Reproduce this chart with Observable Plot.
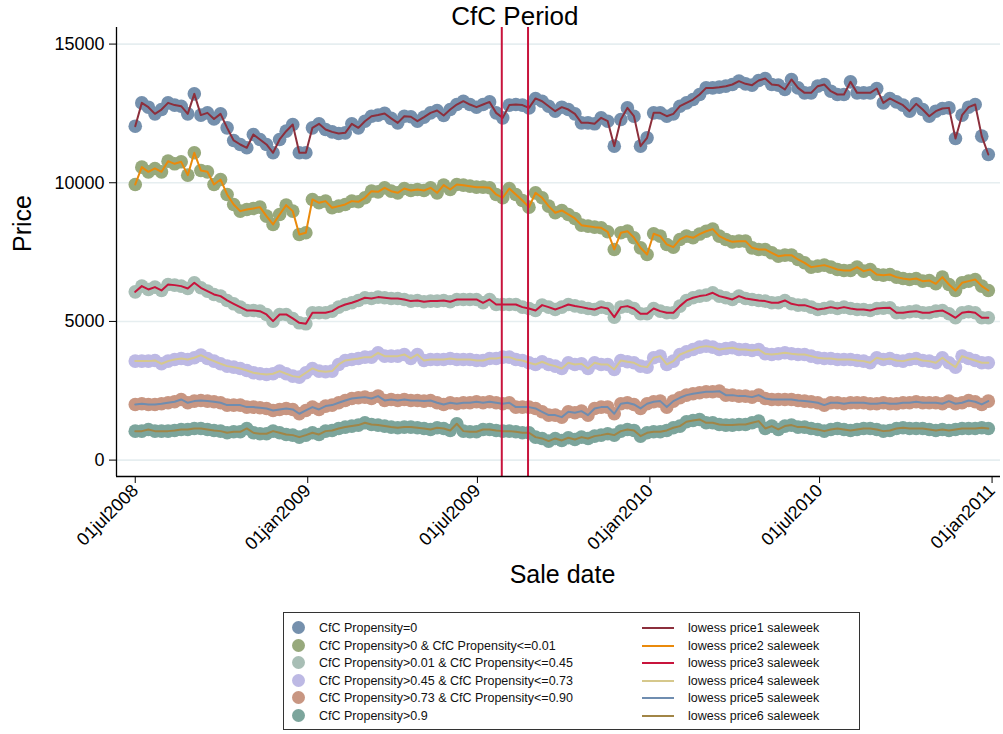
<!DOCTYPE html>
<html>
<head>
<meta charset="utf-8">
<script src="https://cdn.jsdelivr.net/npm/d3@7"></script>
<script src="https://cdn.jsdelivr.net/npm/@observablehq/plot@0.6"></script>
<style>
  body { margin: 0; background: #fff; font-family: "Liberation Sans", Arial, Helvetica, sans-serif; }
  #wrap { position: relative; width: 1003px; height: 734px; background: #fff; }
  #legend { position: absolute; left: 283px; top: 612px; width: 577px; height: 118px; border: 1px solid #333; box-sizing: border-box; font-size: 12.5px; color: #111; }
  .item { position: absolute; white-space: nowrap; line-height: 14px; }
  .dotsw { position: absolute; width: 13px; height: 13px; border-radius: 50%; }
  .linesw { position: absolute; width: 32px; height: 2px; }
</style>
</head>
<body>
<div id="wrap"><div id="chart"></div><div id="legend"></div></div>
<script>
// ---- data ----
const weekStart = "2008-07-01"; // first sale week, weekly observations
const price1 = [12040,12880,12725,12485,12640,12880,12800,12760,12485,13205,12440,12520,12300,12485,11980,11525,11380,11260,11740,11560,11380,11080,11560,11860,12100,11080,11080,11980,12125,11920,11835,11775,11800,12125,11980,12220,12400,12440,12500,12320,12160,12400,12380,
 12220,12365,12520,12605,12425,12640,12820,12940,12820,12725,12820,12915,12520,12340,12800,12820,12800,12700,13040,12940,12760,12580,12725,12640,12485,12160,12160,12125,12340,12220,11320,12280,12700,12400,11320,11620,12520,12520,12400,12485,12760,12880,13000,13180,13420,
 13420,13447,13483,13543,13663,13567,13519,13688,13760,13543,13519,13363,13724,13420,13241,13241,13483,13543,13302,13182,13182,13639,13241,13241,13241,13399,12880,13040,12917,12798,12581,12845,12641,12400,12581,12677,12700,11597,12437,12725,12822,11680,11020];
const price2 = [9938,10563,10394,10515,10394,10779,10683,10755,10274,11080,10443,10394,9938,10118,9579,9218,8977,9037,9073,9121,8796,8497,8857,9193,8977,8137,8197,9398,9278,9338,9097,9157,9218,9338,9314,9458,9697,9673,9818,9697,9637,9794,9722,
 9758,9722,9818,9637,9914,9758,9938,9914,9878,9842,9842,9818,9579,9458,9794,9579,9362,9121,9637,9458,9157,8917,9001,8857,8713,8472,8436,8400,8376,8232,7596,8197,8255,8015,7654,7415,8160,8075,7776,7679,7956,8075,8015,8150,8250,
 8330,8075,7956,7870,7895,7895,7654,7595,7595,7474,7354,7390,7390,7234,7114,6958,6994,7030,6958,6874,6838,6838,6958,6814,6874,6694,6669,6694,6597,6549,6514,6549,6453,6477,6357,6597,6333,6116,6393,6453,6514,6273,6116];
const price3 = [6067,6273,6153,6237,6117,6333,6309,6273,6189,6393,6213,6093,5973,5913,5757,5635,5516,5396,5396,5371,5252,5011,5252,5252,5108,4950,4914,5311,5311,5311,5371,5516,5612,5672,5757,5853,5829,5877,5853,5829,5829,5793,5733,5757,5709,5733,5733,5757,5709,5793,5793,5793,5793,5672,5793,5612,5612,5612,5612,5516,5468,5396,5588,5516,
 5432,5516,5612,5560,5516,5468,5432,5516,5468,5155,5516,5552,5468,5275,5275,5468,5371,5311,5311,5552,5757,5853,5913,5949,6033,5913,5853,5793,5913,5829,5793,5757,5733,5672,5672,5757,5636,5588,5588,5516,5432,5468,5516,5468,5516,5468,5432,5432,5396,5468,5480,5492,5311,5311,5347,5371,5311,5311,5371,5396,5275,5131,5311,5347,5311,5131,5131];
const price4 = [3569,3569,3569,3593,3473,3569,3629,3665,3629,3689,3785,3665,3569,3473,3389,3353,3305,3233,3149,3113,3089,3113,3209,3113,3028,2992,3149,3305,3209,3185,3209,3449,3593,3629,3665,3713,3713,3869,3749,3749,3749,3809,3665,3809,3593,3629,3629,3629,3665,3629,3629,3629,3593,3593,3665,3665,3713,3713,3629,3593,3509,3449,3545,3449,
 3389,3305,3509,3449,3473,3305,3509,3449,3449,3269,3593,3545,3509,3389,3353,3689,3749,3449,3569,3809,3905,3989,4074,4110,4074,3989,4026,4050,3989,3989,3953,3989,3833,3809,3833,3869,3833,3809,3809,3749,3689,3665,3665,3629,3629,3629,3593,3569,3509,3689,3629,3665,3593,3569,3629,3665,3593,3569,3509,3689,3509,3353,3749,3665,3593,3509,3509];
const price5 = [2007,2031,2007,2007,2031,2067,2103,2187,2067,2127,2151,2127,2103,2067,1983,1983,1983,1911,1911,1887,1863,1791,1827,1863,1827,1671,1791,1911,1827,1947,1983,2067,2151,2223,2247,2271,2223,2307,2151,2187,2151,2187,2151,2151,2127,2151,2067,2007,2067,2031,2067,2067,2103,2067,2103,2067,2031,2067,1911,1911,1911,1863,1743,1622,
 1622,1550,1743,1707,1766,1622,1863,1911,1911,1671,2031,2067,2007,1863,2031,2103,2127,1911,2127,2247,2343,2391,2427,2463,2463,2487,2343,2343,2307,2307,2271,2343,2223,2187,2187,2187,2187,2151,2127,2103,2067,1983,2067,2067,2031,2067,2067,2067,2031,2031,2067,2031,2031,2067,2067,2103,2067,2067,2067,2031,2127,2031,2067,2151,2103,2007,2127];
const price6 = [1045,1045,1106,1045,1045,1045,1070,1106,1106,1142,1142,1106,1070,1045,985,1021,1021,1142,985,949,949,1045,985,925,901,829,901,985,925,1045,1070,1142,1190,1226,1262,1346,1286,1262,1226,1190,1166,1190,1190,1166,1142,1106,1166,1142,1070,1310,1045,1021,1021,1106,1106,1070,1045,1045,1021,985,985,829,781,685,
 781,709,805,745,829,781,865,901,949,901,1045,1106,1070,865,985,1021,1021,1070,1166,1226,1382,1430,1466,1346,1346,1286,1262,1262,1286,1286,1346,1406,1142,1226,1106,1226,1262,1190,1190,1142,1106,1045,1106,1142,1106,1070,1106,1142,1142,1106,1045,1070,1142,1166,1142,1142,1142,1106,1070,1106,1070,1106,1142,1142,1142,1166,1142];

const groupLabels = ["CfC Propensity=0", "CfC Propensity>0 & CfC Propensity<=0.01", "CfC Propensity>0.01 & CfC Propensity<=0.45",
  "CfC Propensity>0.45 & CfC Propensity<=0.73", "CfC Propensity>0.73 & CfC Propensity<=0.90", "CfC Propensity>0.9"];
const lowessLabels = ["lowess price1 saleweek", "lowess price2 saleweek", "lowess price3 saleweek",
  "lowess price4 saleweek", "lowess price5 saleweek", "lowess price6 saleweek"];
const dotColors = ["#7590ad", "#97a97c", "#a8beb5", "#bdb9e4", "#c89682", "#7ca59c"];
const lineColors = ["#8c2f3c", "#ea8a0b", "#c8143c", "#d6c88c", "#6f8db0", "#a18546"];
const cfcPeriod = ["2009-07-27", "2009-08-24"];
const yTicks = [0, 5000, 10000, 15000];
const xTicks = ["2008-07-01", "2009-01-01", "2009-07-01", "2010-01-01", "2010-07-01", "2011-01-01"];
const xDomain = ["2008-06-11", "2011-01-10"];
const yDomain = [-591, 15598];

// ---- build table ----
const series = [price1, price2, price3, price4, price5, price6];
const t0 = new Date(weekStart);
const rows = series.map((vals, s) => vals.map((v, i) => ({s, date: d3.utcDay.offset(t0, 7 * i), price: v})));
const toDate = (s) => new Date(s);
const fmt = (d) => d3.utcFormat("%d%b%Y")(d).toLowerCase();
const font = "'Liberation Sans', Arial, Helvetica, sans-serif";

const marks = [
  Plot.ruleY(yTicks, {stroke: "#e6eef0", strokeWidth: 1.6}),
  ...rows.map((r, s) => Plot.dot(r, {x: "date", y: "price", r: 6.8, fill: dotColors[s], stroke: "none"})),
  ...rows.map((r, s) => Plot.line(r, {x: "date", y: "price", stroke: lineColors[s], strokeWidth: 2})),
  Plot.ruleX(cfcPeriod.map(toDate), {stroke: "#c8143c", strokeWidth: 2}),
  Plot.ruleX([toDate(xDomain[0])], {stroke: "#000", strokeWidth: 1.3}),
  Plot.ruleY([yDomain[0]], {stroke: "#000", strokeWidth: 1.3}),
  Plot.axisY({ticks: yTicks, tickSize: 7, tickPadding: 5, fontSize: 18, label: null, tickFormat: d => String(d)}),
  Plot.axisX({ticks: xTicks.map(toDate), tickSize: 7, tickPadding: 4, fontSize: 18, tickRotate: -45, label: null, tickFormat: fmt}),
  Plot.text(["Price"], {frameAnchor: "left", dx: -94, rotate: -90, fontSize: 25, fill: "#000"}),
  Plot.text(["Sale date"], {frameAnchor: "bottom", dy: 106, dx: 4, fontSize: 25, fill: "#000"}),
  Plot.text([{d: new Date("2009-08-10")}], {x: "d", frameAnchor: "top", lineAnchor: "bottom", dy: -3, text: () => "CfC Period", fontSize: 26, fill: "#000"})
];

const chart = Plot.plot({
  width: 1003, height: 610,
  marginLeft: 116, marginRight: 3, marginTop: 27, marginBottom: 134,
  style: {fontFamily: font, background: "#fff", color: "#000", overflow: "visible"},
  x: {type: "utc", domain: xDomain.map(toDate)},
  y: {domain: yDomain},
  marks
});
document.getElementById("chart").appendChild(chart);

// ---- legend ----
const leg = document.getElementById("legend");
groupLabels.forEach((lab, i) => {
  const y = 8 + i * 17.6;
  const sw = document.createElement("div");
  sw.className = "dotsw"; sw.style.background = dotColors[i];
  sw.style.left = "8px"; sw.style.top = (y) + "px";
  leg.appendChild(sw);
  const tx = document.createElement("div");
  tx.className = "item"; tx.textContent = lab; tx.style.left = "35px"; tx.style.top = (y) + "px";
  leg.appendChild(tx);
});
lowessLabels.forEach((lab, i) => {
  const y = 8 + i * 17.6;
  const sw = document.createElement("div");
  sw.className = "linesw"; sw.style.background = lineColors[i];
  sw.style.left = "358px"; sw.style.top = (y + 6) + "px";
  leg.appendChild(sw);
  const tx = document.createElement("div");
  tx.className = "item"; tx.textContent = lab; tx.style.left = "404px"; tx.style.top = (y) + "px";
  leg.appendChild(tx);
});
</script>
</body>
</html>
